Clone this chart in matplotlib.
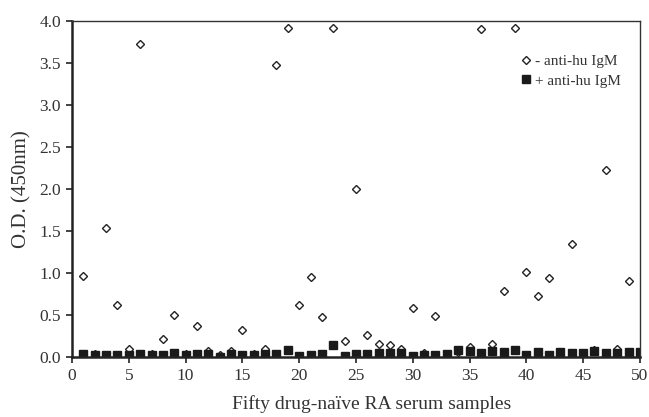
import numpy as np
import matplotlib
matplotlib.use('Agg')
import matplotlib.pyplot as plt

plt.rcParams['font.family'] = ['Liberation Serif', 'DejaVu Serif']

# sample index 1..50
samples = np.arange(1, 51)

# - anti-hu IgM (open diamonds)
minus_igm = [0.96, 0.03, 1.53, 0.62, 0.10, 3.73, 0.03, 0.21, 0.50, 0.03,
             0.37, 0.075, 0.02, 0.075, 0.325, 0.03, 0.10, 3.48, 3.92, 0.62,
             0.95, 0.476, 3.92, 0.187, 2.00, 0.26, 0.16, 0.14, 0.09, 0.587,
             0.05, 0.488, 0.04, 0.06, 0.115, 3.90, 0.16, 0.78, 3.92, 1.01,
             0.72, 0.94, 0.05, 1.34, 0.04, 0.08, 2.23, 0.095, 0.90, 0.05]

# + anti-hu IgM (filled squares)
plus_igm = [0.04, 0.02, 0.02, 0.02, 0.02, 0.035, 0.02, 0.02, 0.05, 0.02,
            0.035, 0.04, 0.0, 0.03, 0.02, 0.02, 0.03, 0.03, 0.08, 0.01,
            0.02, 0.03, 0.14, 0.01, 0.03, 0.03, 0.05, 0.05, 0.05, 0.01,
            0.02, 0.02, 0.03, 0.08, 0.07, 0.05, 0.07, 0.06, 0.08, 0.02,
            0.055, 0.02, 0.06, 0.05, 0.05, 0.07, 0.05, 0.05, 0.06, 0.06]

fig = plt.figure(figsize=(6.49, 4.17), dpi=100)
ax = fig.add_axes([0.111, 0.144, 0.875, 0.806])

ax.plot(samples, minus_igm, linestyle='none', marker='D', markersize=4,
        markerfacecolor='white', markeredgecolor='#222222', markeredgewidth=1,
        label='- anti-hu IgM')
ax.plot(samples, plus_igm, linestyle='none', marker='s', markersize=5.5,
        markerfacecolor='#1a1a1a', markeredgecolor='#1a1a1a',
        label='+ anti-hu IgM')

ax.set_xlim(0, 50)
ax.set_ylim(0, 4.0)
ax.set_xticks(np.arange(0, 51, 5))
ax.set_yticks(np.arange(0, 4.01, 0.5))
ax.set_yticklabels([f'{v:.1f}' for v in np.arange(0, 4.01, 0.5)])

for side in ['left', 'bottom']:
    ax.spines[side].set_linewidth(1.8)
    ax.spines[side].set_color('#222222')
for side in ['top', 'right']:
    ax.spines[side].set_linewidth(1.0)
    ax.spines[side].set_color('#333333')

ax.tick_params(axis='both', direction='out', length=4, width=1.2,
               labelsize=12.5, colors='#222222', pad=4)
ax.tick_params(axis='both', labelcolor='#333333')
ax.tick_params(top=False, right=False)

ax.set_xlabel('Fifty drug-naïve RA serum samples', fontsize=14, color='#333333')
ax.xaxis.set_label_coords(0.528, -0.115)
ax.set_ylabel('O.D. (450nm)', fontsize=15, color='#333333')
ax.yaxis.set_label_coords(-0.072, 0.5)

leg = ax.legend(loc='upper right', bbox_to_anchor=(0.99, 0.94), frameon=False,
                fontsize=11, handletextpad=0.3, handlelength=0.5,
                labelspacing=0.35)
for t in leg.get_texts():
    t.set_color('#333333')

fig.savefig('out.png', dpi=100)
